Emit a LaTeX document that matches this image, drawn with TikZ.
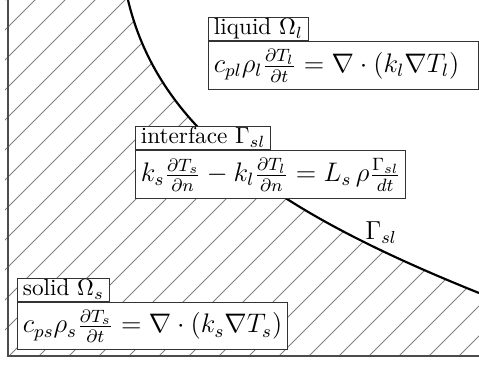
\documentclass[tikz,border=0pt]{standalone}
\usepackage{amsmath}
\usepackage{amssymb}
\usepackage{tikz}
\usetikzlibrary{positioning}

\begin{document}
\begin{tikzpicture}[x=0.4608pt,y=0.4608pt,
    eqbox/.style={draw=black!80,fill=white,line width=0.5pt,font=\large,scale=1.03,text width=116pt,minimum height=21.1pt,inner xsep=2.4pt,align=left,anchor=north west},
    lblbox/.style={draw=black!80,fill=white,line width=0.5pt,scale=1.07,inner xsep=2.3pt,inner ysep=0.4pt,text height=7pt,text depth=2pt},
    hatch/.style={gray,line width=0.4pt},
    axis/.style={black!70,line width=0.8pt},
    iface/.style={black,line width=1pt}]
    \useasboundingbox (0,0) rectangle (479,365);

    % solid part, hatched
    \begin{scope}
        \clip (5,9) -- (5,365) -- (128,365) .. controls (160,230) and (285,150) .. (479,72) -- (479,9) -- cycle;
        \foreach \k in {-13,...,16}
            \draw[hatch] (30*\k,0) -- ++(420,420);
    \end{scope}
    \draw[iface] (128,365) .. controls (160,230) and (285,150) .. (479,72);
    \draw[axis] (8,365) -- (8,9) -- (479,9);

    % equations
    \node[eqbox] (eqL) at (208,324) {\mbox{$c_{pl}\rho_l\frac{\partial T_l}{\partial t} = \nabla\cdot(k_l\nabla T_l)$}};
    \node[lblbox] (lblL) [above right=0pt of eqL.north west] {liquid $\Omega_l$};
    \node[eqbox] (eqI) at (135,215) {\mbox{$k_s\frac{\partial T_s}{\partial n} - k_l\frac{\partial T_l}{\partial n} = L_s\,\rho\frac{\Gamma_{sl}}{dt}$}};
    \node[lblbox] (lblI) [above right=0pt of eqI.north west] {interface $\Gamma_{sl}$};
    \node[eqbox] (eqS) at (17,63) {\mbox{$c_{ps}\rho_s\frac{\partial T_s}{\partial t} = \nabla\cdot(k_s\nabla T_s)$}};
    \node[lblbox] (lblS) [above right=0pt of eqS.north west] {solid $\Omega_s$};

    \node[font=\large] (gsl) at (381,132) {$\Gamma_{sl}$};
\end{tikzpicture}
\end{document}
